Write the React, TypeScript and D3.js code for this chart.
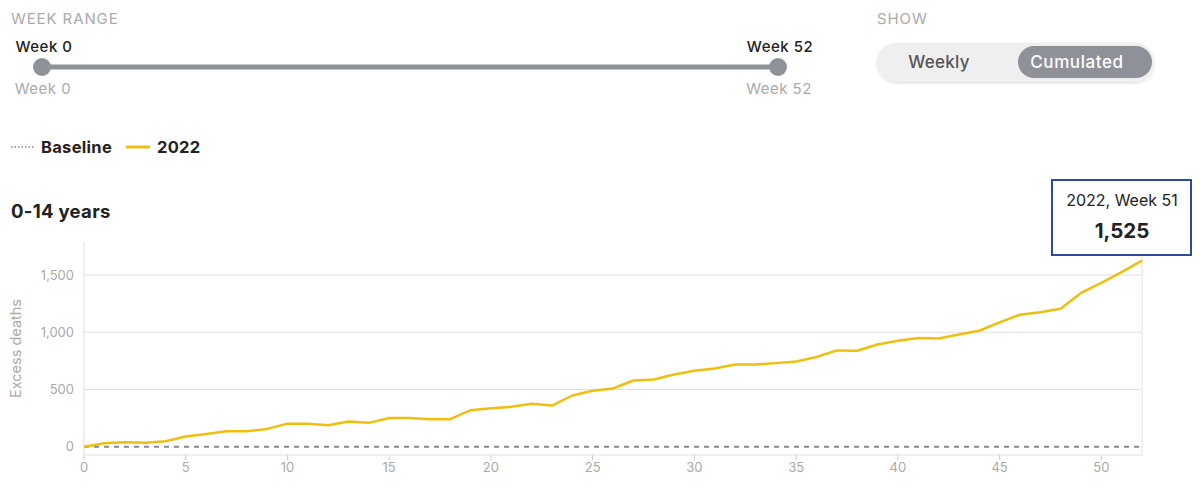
import React from "react";
import * as d3 from "d3";

const weeks: number[] = d3.range(0, 53);
const excess2022: number[] = [
  0, 30, 38, 34, 47, 88, 111, 135, 135, 155,
  201, 201, 187, 219, 208, 251, 251, 240, 240, 319,
  336, 348, 374, 359, 447, 488, 508, 578, 587, 631,
  663, 683, 718, 718, 730, 744, 783, 841, 838, 893,
  926, 949, 946, 981, 1013, 1086, 1153, 1174, 1206, 1343,
  1431, 1525, 1626,
];
const xTicks: number[] = [0, 5, 10, 15, 20, 25, 30, 35, 40, 45, 50];
const yTicks: number[] = [0, 500, 1000, 1500];
const legendItems: string[] = ["Baseline", "2022"];
const toggleOptions: string[] = ["Weekly", "Cumulated"];
const rangeLabels: string[] = ["Week 0", "Week 52"];

const FONT = "Inter, 'Open Sans', sans-serif";

export default function App() {
  const W = 1200, H = 491;
  const left = 84, right = 1142, top = 242, bottom = 455;
  const x = d3.scaleLinear().domain([0, 52]).range([left, right]);
  const yMax = d3.max(excess2022)! * 1.1;
  const y = d3.scaleLinear().domain([-73, yMax]).range([bottom, top]);
  const line = d3.line<number>().x((_, i) => x(weeks[i])).y((d) => y(d));
  const fmt = d3.format(",");
  const slider = d3.scaleLinear().domain([0, 52]).range([42, 778]);
  const tipWeek = 51;

  return (
    <svg width={W} height={H} style={{ position: "absolute", left: 0, top: 0, fontFamily: FONT }}>
      <defs>
        <filter id="sh" x="-10%" y="-30%" width="120%" height="160%">
          <feDropShadow dx="0" dy="1" stdDeviation="1.5" floodColor="#000" floodOpacity="0.15" />
        </filter>
      </defs>
      <rect width={W} height={H} fill="#fff" />
      {/* Week range */}
      <text x={11} y={24} fontSize={15} fill="#aaa" letterSpacing={0.9}>WEEK RANGE</text>
      <line x1={slider(0)} x2={slider(52)} y1={67} y2={67} stroke="#909299" strokeWidth={5} />
      {[0, 52].map((w, i) => (
        <g key={w}>
          <circle cx={slider(w)} cy={67} r={9} fill="#909299" />
          <text x={slider(w) + 2} y={52} textAnchor="middle" fontSize={15} fontWeight={500} letterSpacing={0.5} fill="#222">{rangeLabels[i]}</text>
          <text x={slider(w) + 1} y={94} textAnchor="middle" fontSize={15} letterSpacing={0.5} fill="#aaa">{rangeLabels[i]}</text>
        </g>
      ))}
      {/* Show toggle */}
      <text x={877} y={24} fontSize={15} fill="#aaa" letterSpacing={0.9}>SHOW</text>
      <rect x={877} y={43} width={277} height={39} rx={19.5} fill="#efefef" filter="url(#sh)" />
      <rect x={1018} y={46} width={134} height={32} rx={16} fill="#8f9199" />
      <text x={939} y={68} textAnchor="middle" fontSize={17} fontWeight={500} letterSpacing={0.3} fill="#555">{toggleOptions[0]}</text>
      <text x={1077} y={68} textAnchor="middle" fontSize={17} fontWeight={500} letterSpacing={0.6} fill="#fff">{toggleOptions[1]}</text>
      {/* Legend */}
      <line x1={11} x2={35} y1={147} y2={147} stroke="#888" strokeWidth={1.5} strokeDasharray="1.5,2" />
      <text x={41} y={153} fontSize={16.5} fontWeight={700} letterSpacing={0.3} fill="#222">{legendItems[0]}</text>
      <line x1={126} x2={150} y1={147} y2={147} stroke="#eebf0f" strokeWidth={3} />
      <text x={157} y={153} fontSize={16.5} fontWeight={700} letterSpacing={0.3} fill="#222">{legendItems[1]}</text>
      {/* Title */}
      <text x={11} y={218} fontSize={18.5} fontWeight={700} letterSpacing={0.3} fill="#222">0-14 years</text>
      {/* Grid */}
      {yTicks.filter((t) => t !== 0).map((t) => (
        <line key={t} x1={left} x2={right} y1={y(t)} y2={y(t)} stroke="#e0e0e0" strokeWidth={1} />
      ))}
      <line x1={left} x2={left} y1={top} y2={bottom} stroke="#e0e0e0" />
      <line x1={right} x2={right} y1={top} y2={bottom} stroke="#e0e0e0" />
      <line x1={left} x2={right} y1={bottom} y2={bottom} stroke="#e0e0e0" />
      {yTicks.map((t) => (
        <text key={t} x={74} y={y(t) + 4.5} textAnchor="end" fontSize={13} fill="#aaa">{fmt(t)}</text>
      ))}
      {xTicks.map((t) => (
        <g key={t}>
          <line x1={x(t)} x2={x(t)} y1={bottom} y2={bottom + 5} stroke="#ccc" />
          <text x={x(t)} y={472} textAnchor="middle" fontSize={13} fill="#aaa">{t}</text>
        </g>
      ))}
      <text transform={`translate(21,${(top + bottom) / 2}) rotate(-90)`} textAnchor="middle" fontSize={14.5} fill="#aaa">Excess deaths</text>
      {/* Baseline */}
      <line x1={left} x2={right} y1={y(0)} y2={y(0)} stroke="#888" strokeWidth={2} strokeDasharray="5,5" />
      {/* Series */}
      <path d={line(excess2022) || ""} fill="none" stroke="#eebf0f" strokeWidth={2.5} strokeLinejoin="round" />
      {/* Tooltip */}
      <rect x={1052} y={180} width={139} height={75} fill="#fff" stroke="#2b4a9b" strokeWidth={2} />
      <text x={1122} y={206} textAnchor="middle" fontSize={16} fill="#222">{`2022, Week ${tipWeek}`}</text>
      <text x={1122} y={238} textAnchor="middle" fontSize={20.5} fontWeight={700} fill="#222">{fmt(excess2022[tipWeek])}</text>
    </svg>
  );
}
